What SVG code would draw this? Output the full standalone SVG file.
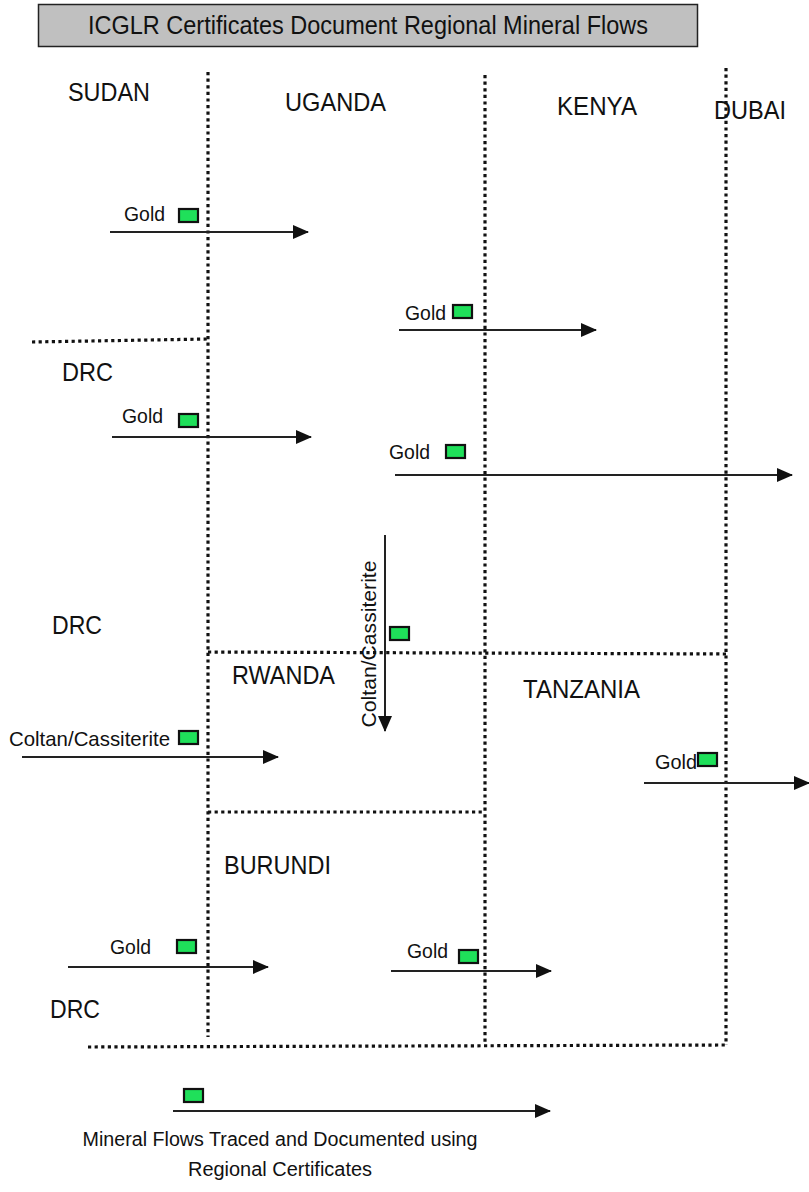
<svg xmlns="http://www.w3.org/2000/svg" width="809" height="1192" viewBox="0 0 809 1192">
<style>
.dot{stroke:#111;stroke-width:3.2;stroke-dasharray:3.2 3.4;fill:none}
.flow{stroke:#222;stroke-width:2;fill:none;marker-end:url(#ah)}
.cert{fill:#1fe05a;stroke:#111;stroke-width:2.2}
.cty{font-family:"Liberation Sans",Arial,sans-serif;font-size:25px;fill:#111}
.min{font-family:"Liberation Sans",Arial,sans-serif;font-size:21px;fill:#111}
.leg{font-family:"Liberation Sans",Arial,sans-serif;font-size:20px;fill:#111}
</style>
<defs>
<marker id="ah" viewBox="0 0 16 14" refX="15" refY="7" markerWidth="16" markerHeight="14" markerUnits="userSpaceOnUse" orient="auto">
<path d="M0,0 L16,7 L0,14 z" fill="#111"/>
</marker>
</defs>
<rect width="809" height="1192" fill="#fff"/>
<g id="title">
<rect x="38.5" y="4.5" width="659" height="42" fill="#c0c0c0" stroke="#222" stroke-width="1.5"/>
<text class="cty" x="368" y="34" text-anchor="middle" font-size="27" textLength="560" lengthAdjust="spacingAndGlyphs">ICGLR Certificates Document Regional Mineral Flows</text>
</g>
<g id="borders">
<line class="dot" x1="208" y1="72" x2="208" y2="1037"/>
<line class="dot" x1="485" y1="75" x2="485" y2="1045"/>
<line class="dot" x1="726" y1="68" x2="726" y2="1045"/>
<line class="dot" x1="32" y1="342" x2="208" y2="339"/>
<line class="dot" x1="208" y1="652" x2="726" y2="654"/>
<line class="dot" x1="208" y1="812" x2="485" y2="812"/>
<line class="dot" x1="88" y1="1047" x2="726" y2="1045"/>
</g>
<g id="countries">
<text class="cty" x="68" y="101" textLength="82" lengthAdjust="spacingAndGlyphs">SUDAN</text>
<text class="cty" x="285" y="111" textLength="101" lengthAdjust="spacingAndGlyphs">UGANDA</text>
<text class="cty" x="557" y="115" textLength="80" lengthAdjust="spacingAndGlyphs">KENYA</text>
<text class="cty" x="714" y="119" textLength="72" lengthAdjust="spacingAndGlyphs">DUBAI</text>
<text class="cty" x="62" y="381" textLength="51" lengthAdjust="spacingAndGlyphs">DRC</text>
<text class="cty" x="52" y="634" textLength="50" lengthAdjust="spacingAndGlyphs">DRC</text>
<text class="cty" x="232" y="684" textLength="103" lengthAdjust="spacingAndGlyphs">RWANDA</text>
<text class="cty" x="523" y="698" textLength="117" lengthAdjust="spacingAndGlyphs">TANZANIA</text>
<text class="cty" x="224" y="874" textLength="107" lengthAdjust="spacingAndGlyphs">BURUNDI</text>
<text class="cty" x="50" y="1018" textLength="50" lengthAdjust="spacingAndGlyphs">DRC</text>
</g>
<g id="connectors">
<line class="flow" x1="110" y1="232" x2="308" y2="232"/>
<line class="flow" x1="399" y1="330" x2="596" y2="330"/>
<line class="flow" x1="112" y1="437" x2="311" y2="437"/>
<line class="flow" x1="395" y1="475" x2="792" y2="475"/>
<line class="flow" x1="385" y1="535" x2="385" y2="731"/>
<line class="flow" x1="22" y1="757" x2="278" y2="757"/>
<line class="flow" x1="644" y1="783" x2="809" y2="783"/>
<line class="flow" x1="68" y1="967" x2="268" y2="967"/>
<line class="flow" x1="391" y1="971" x2="551" y2="971"/>
<line class="flow" x1="173" y1="1111" x2="550" y2="1111"/>
</g>
<g id="flow-sudan-uganda">
<text class="min" x="124" y="221" textLength="41" lengthAdjust="spacingAndGlyphs">Gold</text>
<rect class="cert" x="179" y="209" width="19" height="13"/>
</g>
<g id="flow-uganda-kenya">
<text class="min" x="405" y="320" textLength="41" lengthAdjust="spacingAndGlyphs">Gold</text>
<rect class="cert" x="453" y="305" width="19" height="13"/>
</g>
<g id="flow-drc-uganda">
<text class="min" x="122" y="423" textLength="41" lengthAdjust="spacingAndGlyphs">Gold</text>
<rect class="cert" x="179" y="414" width="19" height="13"/>
</g>
<g id="flow-uganda-dubai">
<text class="min" x="389" y="459" textLength="41" lengthAdjust="spacingAndGlyphs">Gold</text>
<rect class="cert" x="446" y="445" width="19" height="13"/>
</g>
<g id="flow-uganda-rwanda">
<text class="min" transform="translate(376,644) rotate(-90)" text-anchor="middle" textLength="167" lengthAdjust="spacingAndGlyphs">Coltan/Cassiterite</text>
<rect class="cert" x="390" y="627" width="19" height="13"/>
</g>
<g id="flow-drc-rwanda">
<text class="min" x="9" y="746" textLength="161" lengthAdjust="spacingAndGlyphs">Coltan/Cassiterite</text>
<rect class="cert" x="179" y="731" width="19" height="13"/>
</g>
<g id="flow-tanzania-dubai">
<text class="min" x="655" y="769" textLength="42" lengthAdjust="spacingAndGlyphs">Gold</text>
<rect class="cert" x="698" y="753" width="19" height="13"/>
</g>
<g id="flow-drc-burundi">
<text class="min" x="110" y="954" textLength="41" lengthAdjust="spacingAndGlyphs">Gold</text>
<rect class="cert" x="177" y="940" width="19" height="13"/>
</g>
<g id="flow-burundi-tanzania">
<text class="min" x="407" y="958" textLength="41" lengthAdjust="spacingAndGlyphs">Gold</text>
<rect class="cert" x="459" y="950" width="19" height="13"/>
</g>
<g id="legend">
<rect class="cert" x="184" y="1089" width="19" height="13"/>
<text class="leg" x="280" y="1146" text-anchor="middle" textLength="395" lengthAdjust="spacingAndGlyphs">Mineral Flows Traced and Documented using</text>
<text class="leg" x="280" y="1176" text-anchor="middle" textLength="184" lengthAdjust="spacingAndGlyphs">Regional Certificates</text>
</g>
</svg>
